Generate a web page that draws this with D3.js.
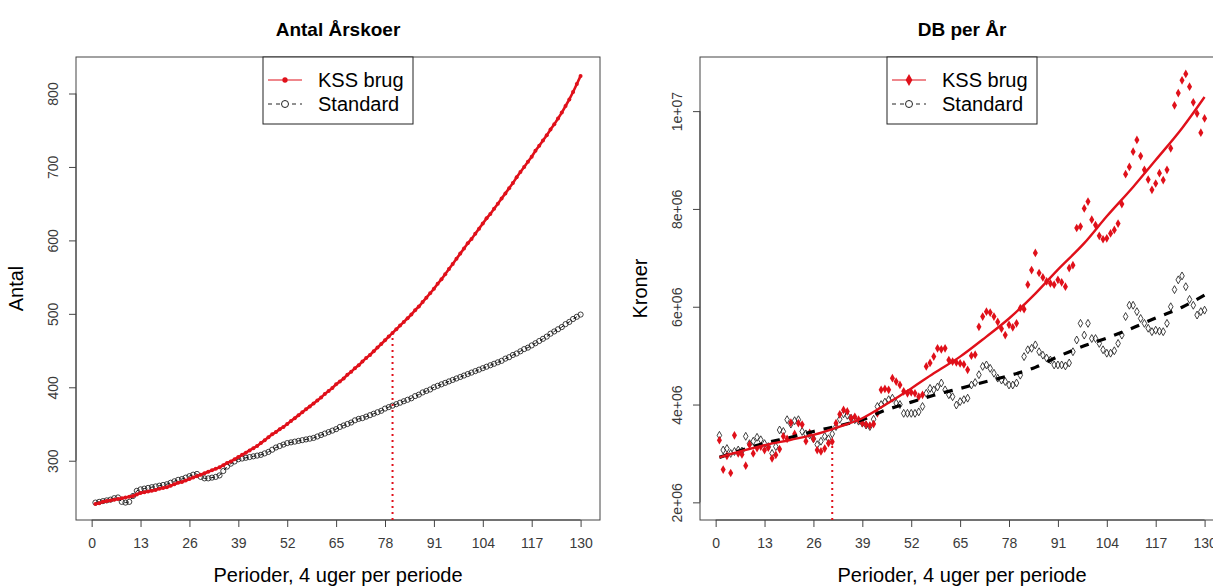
<!DOCTYPE html>
<html>
<head>
<meta charset="utf-8">
<title>Antal Årskoer / DB per År</title>
<script src="https://d3js.org/d3.v7.min.js"></script>
<style>
    body { margin: 0; background: #fff; }
    svg { display: block; font-family: "Liberation Sans", Arial, sans-serif; }
    .tick text { fill: #3a3a3a; font-size: 14px; }
    .tick line, .domain { stroke: #444; }
</style>
</head>
<body>
<div id="chart"></div>
<script>
// ---- data ----
// x ticks (periods, 4 weeks each)
const xTicks = [0, 13, 26, 39, 52, 65, 78, 91, 104, 117, 130];

// left panel: number of cows per period 1..130
const kssCows = [241, 242, 244, 245, 246, 247, 248, 249, 250, 251, 252, 254, 256, 257, 258, 259, 260, 262, 263, 264,
    266, 268, 270, 271, 273, 275, 277, 279, 281, 283, 285, 287, 289, 291, 294, 297, 299, 302, 305, 308,
    311, 314, 317, 320, 324, 328, 332, 336, 339, 343, 346, 350, 354, 358, 362, 366, 370, 374, 378, 382,
    386, 391, 395, 399, 404, 408, 412, 417, 421, 426, 430, 435, 440, 444, 449, 454, 459, 464, 469, 474,
    479, 484, 489, 494, 499, 505, 510, 516, 522, 528, 534, 541, 547, 554, 561, 568, 575, 582, 589, 596,
    602, 609, 616, 623, 630, 636, 643, 650, 657, 664, 671, 678, 686, 693, 700, 707, 714, 722, 729, 736,
    743, 751, 758, 766, 774, 783, 792, 802, 813, 824];
const stdCows = [243, 244, 245, 246, 247, 249, 250, 244, 243, 244, 252, 259, 261, 262, 263, 264, 265, 266, 267, 268,
    270, 272, 274, 275, 277, 279, 281, 282, 278, 276, 276, 277, 278, 280, 286, 292, 296, 299, 302, 303,
    304, 305, 306, 307, 308, 310, 312, 315, 318, 320, 322, 324, 325, 326, 327, 328, 329, 330, 331, 333,
    335, 337, 339, 341, 343, 346, 348, 350, 352, 355, 357, 358, 360, 362, 364, 366, 368, 371, 373, 375,
    377, 379, 381, 383, 385, 388, 390, 393, 395, 397, 400, 402, 404, 406, 408, 410, 412, 414, 416, 418,
    420, 422, 424, 426, 428, 430, 432, 434, 436, 439, 441, 444, 446, 449, 452, 454, 457, 460, 463, 466,
    469, 473, 476, 479, 482, 486, 489, 493, 496, 499];
const cowTicks = [300, 400, 500, 600, 700, 800];
const cowMark = 80;   // dotted line period, left panel

// right panel: DB per year, millions of kroner, per period 1..130
const kssDB = [3.27, 2.67, 2.95, 2.60, 3.37, 3.00, 2.98, 2.75, 3.18, 3.00, 3.11, 3.14, 3.07, 3.12, 2.90, 2.97, 3.09, 3.35, 3.30, 3.63,
    3.40, 3.62, 3.59, 3.25, 3.42, 3.30, 3.07, 3.04, 3.10, 3.21, 3.24, 3.62, 3.80, 3.89, 3.86, 3.72, 3.75, 3.69, 3.62, 3.59,
    3.57, 3.60, 3.82, 4.30, 4.32, 4.30, 4.54, 4.47, 4.40, 4.27, 4.23, 4.25, 4.23, 4.16, 4.20, 4.78, 4.85, 4.98, 5.15, 5.13,
    5.15, 4.91, 4.88, 4.86, 4.84, 4.82, 4.71, 5.00, 5.02, 5.59, 5.80, 5.90, 5.88, 5.80, 5.69, 5.55, 5.42, 5.63, 5.58, 5.66,
    5.97, 5.95, 6.45, 6.75, 7.10, 6.69, 6.60, 6.52, 6.48, 6.45, 6.55, 6.50, 6.41, 6.79, 6.85, 7.61, 7.64, 8.01, 8.15, 7.78,
    7.67, 7.45, 7.38, 7.40, 7.50, 7.57, 7.70, 8.10, 8.71, 8.86, 9.17, 9.41, 9.08, 8.80, 8.60, 8.39, 8.52, 8.73, 8.59, 8.80,
    9.24, 10.12, 10.37, 10.63, 10.76, 10.50, 10.18, 9.95, 9.56, 9.85];
const stdDB = [3.37, 3.07, 3.10, 3.00, 3.04, 3.07, 3.05, 3.35, 3.20, 3.25, 3.33, 3.28, 3.20, 3.14, 3.00, 3.14, 3.48, 3.45, 3.69, 3.60,
    3.67, 3.69, 3.45, 3.40, 3.38, 3.30, 3.18, 3.25, 3.35, 3.30, 3.40, 3.55, 3.70, 3.81, 3.78, 3.72, 3.69, 3.66, 3.62, 3.58,
    3.55, 3.70, 3.96, 4.00, 4.05, 4.10, 4.13, 4.03, 4.00, 3.82, 3.82, 3.82, 3.82, 3.85, 3.96, 4.23, 4.33, 4.30, 4.36, 4.44,
    4.30, 4.20, 4.16, 3.99, 4.06, 4.10, 4.13, 4.40, 4.45, 4.61, 4.78, 4.81, 4.74, 4.64, 4.54, 4.50, 4.47, 4.40, 4.40, 4.44,
    4.60, 4.98, 5.12, 5.15, 5.22, 5.08, 5.01, 4.95, 4.91, 4.81, 4.81, 4.81, 4.79, 4.85, 5.08, 5.32, 5.66, 5.42, 5.66, 5.35,
    5.35, 5.25, 5.12, 5.05, 5.05, 5.10, 5.25, 5.42, 5.80, 6.03, 6.03, 5.90, 5.76, 5.66, 5.56, 5.49, 5.52, 5.50, 5.49, 5.66,
    6.00, 6.35, 6.55, 6.63, 6.41, 6.15, 6.03, 5.83, 5.90, 5.93];
// fitted trend lines, read at these periods
const trendPeriods = [1, 7, 13, 20, 26, 33, 39, 45, 52, 58, 65, 72, 78, 85, 91, 98, 104, 111, 117, 124, 130];
const kssTrend = [2.92, 3.05, 3.17, 3.28, 3.38, 3.55, 3.72, 3.99, 4.33, 4.64, 4.98, 5.39, 5.76, 6.27, 6.76, 7.30, 7.85, 8.45, 9.00, 9.65, 10.29];
const stdTrend = [2.92, 3.07, 3.21, 3.33, 3.45, 3.57, 3.69, 3.88, 4.05, 4.19, 4.33, 4.47, 4.59, 4.76, 4.98, 5.20, 5.36, 5.57, 5.77, 5.99, 6.24];
const dbTicks = [2e6, 4e6, 6e6, 8e6, 1e7];
const dbTickLabels = ["2e+06", "4e+06", "6e+06", "8e+06", "1e+07"];
const dbMark = 31;    // dotted line period, right panel

const RED = "#e0101a";

const svg = d3.select("#chart").append("svg")
    .attr("width", 1213)
    .attr("height", 586);

// builds one R-style panel: box, axes, titles. returns the scales
function panel(box, yDomain, yTickVals, yTickFmt, title, yTitle) {
    const x = d3.scaleLinear().domain([-4.16, 135.16]).range([box.x0, box.x1]);
    const y = d3.scaleLinear().domain(yDomain).range([box.y1, box.y0]);

    svg.append("g")
        .attr("transform", `translate(0,${box.y1})`)
        .call(d3.axisBottom(x).tickValues(xTicks).tickSize(7).tickSizeOuter(0).tickPadding(11))
        .call(g => g.select(".domain").attr("d", `M${x(0)},0H${x(130)}`));

    const ya = svg.append("g")
        .attr("transform", `translate(${box.x0},0)`)
        .call(d3.axisLeft(y).tickValues(yTickVals).tickFormat(yTickFmt).tickSize(7).tickSizeOuter(0))
        .call(g => g.select(".domain").attr("d", `M0,${y(yTickVals[0])}V${y(yTickVals[yTickVals.length - 1])}`));
    // R draws the y labels parallel to the axis
    ya.selectAll(".tick text")
        .attr("transform", "rotate(-90)")
        .attr("x", 0).attr("y", -18).attr("dy", 0)
        .attr("text-anchor", "middle");

    // plot frame
    svg.append("rect")
        .attr("x", box.x0).attr("y", box.y0)
        .attr("width", box.x1 - box.x0).attr("height", box.y1 - box.y0)
        .attr("fill", "none").attr("stroke", "#444");

    const cx = (box.x0 + box.x1) / 2;
    svg.append("text")
        .attr("x", cx).attr("y", 36)
        .attr("text-anchor", "middle")
        .style("font-size", "19px").style("font-weight", "bold")
        .text(title);
    svg.append("text")
        .attr("x", cx).attr("y", 582)
        .attr("text-anchor", "middle")
        .style("font-size", "20px")
        .text("Perioder, 4 uger per periode");
    svg.append("text")
        .attr("transform", `translate(${box.x0 - 53},${(box.y0 + box.y1) / 2}) rotate(-90)`)
        .attr("text-anchor", "middle")
        .style("font-size", "20px")
        .text(yTitle);

    return { x, y };
}

// legend at the top centre of the plot box
function legend(box, kssSymbol) {
    const cx = (box.x0 + box.x1) / 2;
    const lg = svg.append("g").attr("transform", `translate(${cx - 75},${box.y0})`);
    lg.append("rect").attr("width", 150).attr("height", 67)
        .attr("fill", "#fff").attr("stroke", "#222");
    lg.append("line").attr("x1", 5).attr("x2", 39).attr("y1", 23).attr("y2", 23)
        .attr("stroke", RED).attr("stroke-width", 1.2);
    lg.append("path").attr("d", kssSymbol).attr("transform", "translate(22,23)").attr("fill", RED);
    lg.append("line").attr("x1", 5).attr("x2", 39).attr("y1", 47).attr("y2", 47)
        .attr("stroke", "#222").attr("stroke-dasharray", "4,4");
    lg.append("circle").attr("cx", 22).attr("cy", 47).attr("r", 3.5)
        .attr("fill", "#fff").attr("stroke", "#222");
    lg.append("text").attr("x", 55).attr("y", 30).style("font-size", "20px").text("KSS brug");
    lg.append("text").attr("x", 55).attr("y", 54).style("font-size", "20px").text("Standard");
}

// ---------- left: Antal Årskoer ----------
const leftBox = { x0: 76, x1: 600, y0: 57, y1: 520 };
const L = panel(leftBox, [219.3, 849.7], cowTicks, d3.format("d"), "Antal Årskoer", "Antal");

const lineL = d3.line().x((d, i) => L.x(i + 1)).y(d => L.y(d));

svg.append("path").datum(stdCows).attr("d", lineL)
    .attr("fill", "none").attr("stroke", "#111").attr("stroke-width", 1).attr("stroke-dasharray", "4,4");
svg.append("g").selectAll("circle").data(stdCows).join("circle")
    .attr("cx", (d, i) => L.x(i + 1)).attr("cy", d => L.y(d)).attr("r", 2.6)
    .attr("fill", "none").attr("stroke", "#111").attr("stroke-width", 0.8);

svg.append("path").datum(kssCows).attr("d", lineL)
    .attr("fill", "none").attr("stroke", RED).attr("stroke-width", 2.6);
svg.append("g").selectAll("circle").data(kssCows).join("circle")
    .attr("cx", (d, i) => L.x(i + 1)).attr("cy", d => L.y(d)).attr("r", 2)
    .attr("fill", RED);

svg.append("line")
    .attr("x1", L.x(cowMark)).attr("x2", L.x(cowMark))
    .attr("y1", leftBox.y1).attr("y2", L.y(kssCows[cowMark - 1]))
    .attr("stroke", RED).attr("stroke-width", 2).attr("stroke-dasharray", "2,4");

legend(leftBox, d3.symbol(d3.symbolCircle, 22)());

// ---------- right: DB per År ----------
const rightBox = { x0: 700, x1: 1224, y0: 57, y1: 520 };
const R = panel(rightBox, [1.639e6, 11.107e6], dbTicks, (d, i) => dbTickLabels[i], "DB per År", "Kroner");

const openDiamond = d3.symbol(d3.symbolDiamond, 18)();
const fullDiamond = d3.symbol(d3.symbolDiamond, 22)();

svg.append("g").selectAll("path").data(stdDB).join("path")
    .attr("d", openDiamond)
    .attr("transform", (d, i) => `translate(${R.x(i + 1)},${R.y(d * 1e6)})`)
    .attr("fill", "none").attr("stroke", "#111").attr("stroke-width", 0.8);

svg.append("g").selectAll("path").data(kssDB).join("path")
    .attr("d", fullDiamond)
    .attr("transform", (d, i) => `translate(${R.x(i + 1)},${R.y(d * 1e6)})`)
    .attr("fill", RED);

const trendLine = d3.line()
    .x((d, i) => R.x(trendPeriods[i]))
    .y(d => R.y(d * 1e6))
    .curve(d3.curveMonotoneX);

svg.append("path").datum(stdTrend).attr("d", trendLine)
    .attr("fill", "none").attr("stroke", "#000").attr("stroke-width", 3.2).attr("stroke-dasharray", "9,9");
svg.append("path").datum(kssTrend).attr("d", trendLine)
    .attr("fill", "none").attr("stroke", RED).attr("stroke-width", 2.4);

svg.append("line")
    .attr("x1", R.x(dbMark)).attr("x2", R.x(dbMark))
    .attr("y1", rightBox.y1).attr("y2", R.y(kssDB[dbMark - 1] * 1e6))
    .attr("stroke", RED).attr("stroke-width", 2).attr("stroke-dasharray", "2,4");

legend(rightBox, d3.symbol(d3.symbolDiamond, 40)());
</script>
</body>
</html>
